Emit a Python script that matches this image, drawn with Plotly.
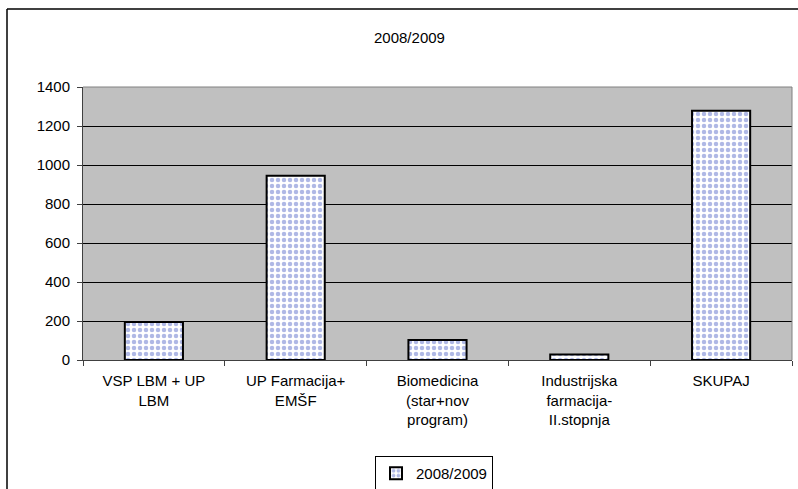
import plotly.graph_objects as go

categories = ["VSP LBM + UP<br>LBM", "UP Farmacija+<br>EMŠF", "Biomedicina<br>(star+nov<br>program)",
              "Industrijska<br>farmacija-<br>II.stopnja", "SKUPAJ"]
values_2008_2009 = [195, 945, 102, 28, 1278]
series_name = "2008/2009"
y_ticks = [0, 200, 400, 600, 800, 1000, 1200, 1400]

W, H = 798, 489
L, R, T, B = 83, 792, 87, 360

def px_x(p):
    return (p - L) / (R - L)

def px_y(p):
    return (B - p) / (B - T)

fig = go.Figure()
fig.add_trace(go.Bar(
    x=categories, y=values_2008_2009, name=series_name, width=0.41,
    marker=dict(color="white",
                line=dict(color="black", width=2),
                pattern=dict(shape=".", fgcolor="#5f72cc", bgcolor="white", size=6, solidity=0.45)),
))

font = "Liberation Sans, Arial, sans-serif"
fig.update_layout(
    width=W, height=H,
    margin=dict(l=L, r=W - R, t=T, b=H - B, autoexpand=False),
    paper_bgcolor="white", plot_bgcolor="#c0c0c0",
    font=dict(family=font, size=15, color="black"),
    showlegend=True,
    legend=dict(x=px_x(434), y=px_y(456), xanchor="center", yanchor="top",
                bordercolor="black", borderwidth=1, bgcolor="white",
                font=dict(size=15), itemwidth=30),
    xaxis=dict(type="category", showgrid=False, ticks="outside", tickson="boundaries",
               ticklen=5, tickcolor="#404040", showline=True, linecolor="#404040",
               linewidth=1, mirror=False, tickfont=dict(size=15), ticklabelstandoff=7,
               fixedrange=True),
    yaxis=dict(range=[0, 1400], tickvals=y_ticks, showgrid=True, gridcolor="black", gridwidth=1,
               ticks="outside", ticklen=5, tickcolor="#404040", showline=True,
               linecolor="#404040", linewidth=1, zeroline=False, tickfont=dict(size=15),
               ticklabelstandoff=4, fixedrange=True),
    annotations=[dict(text="2008/2009", xref="paper", yref="paper", x=px_x(409), y=px_y(38),
                      showarrow=False, font=dict(size=15), xanchor="center", yanchor="middle")],
    shapes=[
        dict(type="line", xref="paper", yref="paper", x0=1, x1=1, y0=0, y1=1,
             line=dict(color="#808080", width=1)),
        dict(type="line", xref="paper", yref="paper", x0=0, x1=1, y0=1, y1=1,
             line=dict(color="#808080", width=1)),
        dict(type="line", xref="paper", yref="paper", x0=px_x(7), x1=px_x(7), y0=px_y(495), y1=px_y(9),
             line=dict(color="black", width=1.5)),
        dict(type="line", xref="paper", yref="paper", x0=px_x(7), x1=px_x(800), y0=px_y(9), y1=px_y(9),
             line=dict(color="black", width=1.5)),
    ],
)

fig.write_html("out.html", config={"displayModeBar": False},
               post_script="document.body.style.margin='0';document.body.style.overflow='hidden';")
